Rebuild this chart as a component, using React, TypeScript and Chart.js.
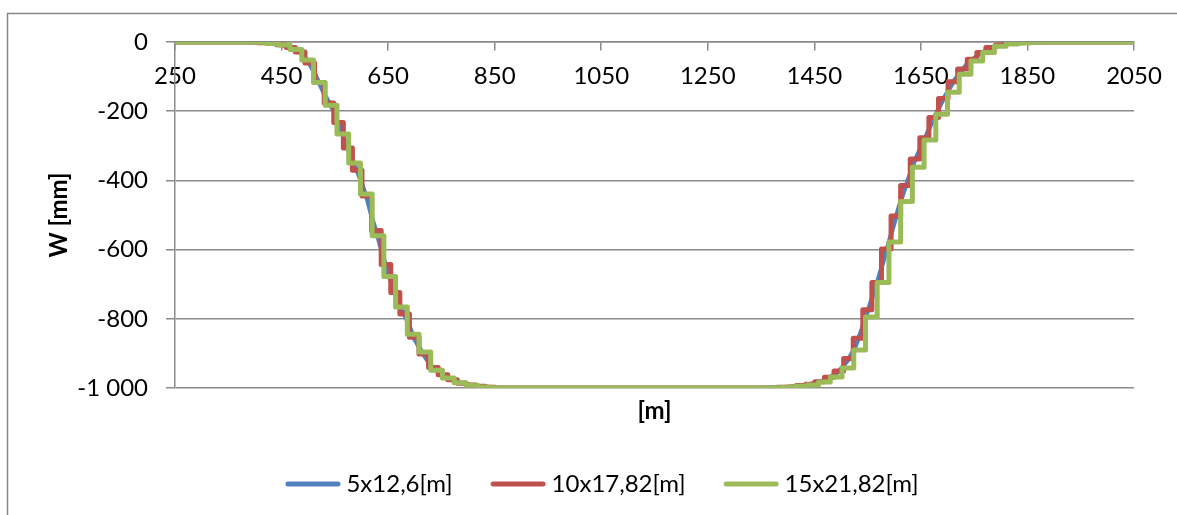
import React, { useEffect, useRef } from 'react';
import { Chart, registerables } from 'chart.js';

Chart.register(...registerables);

// ---- data ----
const xTickValues = [250, 450, 650, 850, 1050, 1250, 1450, 1650, 1850, 2050];
const yTickValues = [-1000, -800, -600, -400, -200, 0];
const yTickLabels = ['-1 000', '-800', '-600', '-400', '-200', '0'];

const seriesNames = ['5x12,6[m]', '10x17,82[m]', '15x21,82[m]'];
const seriesColors = ['#4F81BD', '#C0504D', '#9BBB59'];

const blueX = [250, 380, 420, 450, 470, 485, 500, 515, 530, 548, 565, 580, 595, 610, 620, 630, 640, 650, 662, 675, 687, 700, 715, 730, 745, 760, 780, 803, 830, 860, 1347, 1404, 1441, 1469, 1494, 1513, 1526, 1539, 1554, 1569, 1584, 1597, 1610, 1623, 1638, 1657, 1676, 1694, 1713, 1736, 1760, 1788, 1816, 1853, 1891, 2050];
const blueY = [0, 0, -2, -8, -18, -30, -55, -100, -150, -200, -270, -330, -385, -450, -510, -560, -615, -670, -720, -770, -810, -860, -900, -935, -955, -970, -983, -991, -997, -1000, -1000, -997, -990, -978, -955, -920, -885, -830, -760, -690, -610, -540, -470, -410, -345, -280, -215, -160, -110, -65, -35, -12, -4, -1, 0, 0];

const redX = [250, 405, 423, 441, 459, 476, 494, 512, 530, 548, 566, 583, 601, 619, 637, 655, 672, 690, 708, 726, 744, 762, 780, 797, 815, 833, 851, 1380, 1398, 1416, 1434, 1451, 1469, 1487, 1505, 1523, 1541, 1558, 1576, 1594, 1612, 1630, 1648, 1665, 1683, 1701, 1719, 1737, 1755, 1772, 1790, 1808, 1826, 1844, 1862, 2050];
const redY = [0, -2, -4, -8, -16, -29, -61, -117, -176, -233, -306, -371, -445, -545, -643, -724, -786, -853, -902, -941, -962, -976, -986, -991, -995, -998, -1000, -998, -997, -993, -989, -982, -969, -951, -915, -856, -774, -695, -598, -503, -415, -338, -277, -218, -163, -115, -78, -50, -30, -16, -9, -4, -2, -1, 0, 0];

const greenX = [250, 400, 422, 444, 466, 488, 510, 532, 554, 576, 598, 620, 642, 664, 686, 708, 730, 752, 774, 796, 818, 840, 862, 1370, 1392, 1414, 1436, 1458, 1480, 1502, 1524, 1546, 1568, 1590, 1612, 1634, 1656, 1678, 1700, 1722, 1744, 1766, 1788, 1810, 1832, 1854, 1876, 2050];
const greenY = [0, -1, -4, -9, -22, -52, -117, -183, -266, -350, -439, -560, -678, -766, -845, -896, -949, -971, -985, -992, -997, -999, -1000, -999, -998, -995, -991, -983, -968, -942, -890, -795, -695, -578, -461, -362, -283, -209, -145, -93, -55, -30, -12, -6, -3, -1, 0, 0];

const xTitle = '[m]';
const yTitle = 'W [mm]';

// ---- styles ----
const FONT = 'Lato';
const FS = 24;
const GRID = '#8a8a8a';

function toPoints(xs: number[], ys: number[]) {
  return xs.map((x, i) => ({ x, y: ys[i] }));
}

function legendLine(color: string) {
  const c = document.createElement('canvas');
  c.width = 110;
  c.height = 12;
  const g = c.getContext('2d')!;
  g.strokeStyle = color;
  g.lineWidth = 5;
  g.lineCap = 'round';
  g.beginPath();
  g.moveTo(33, 6);
  g.lineTo(83, 6);
  g.stroke();
  return c;
}

const framePlugin = {
  id: 'frame',
  beforeDraw(chart: any) {
    const ctx = chart.ctx;
    ctx.save();
    ctx.strokeStyle = '#868686';
    ctx.lineWidth = 1.5;
    ctx.beginPath();
    ctx.moveTo(7.5, 515);
    ctx.lineTo(7.5, 13.5);
    ctx.lineTo(1177, 13.5);
    ctx.stroke();
    ctx.restore();
  },
};

export default function App() {
  const ref = useRef<HTMLCanvasElement>(null);

  useEffect(() => {
    if (!ref.current) return;
    const imgs = seriesColors.map(legendLine);
    const series = [
      { x: blueX, y: blueY, stepped: false as any, width: 4.5 },
      { x: redX, y: redY, stepped: 'before' as any, width: 5 },
      { x: greenX, y: greenY, stepped: 'before' as any, width: 5 },
    ];
    const chart = new Chart(ref.current, {
      type: 'line',
      data: {
        datasets: series.map((s, i) => ({
          label: seriesNames[i],
          data: toPoints(s.x, s.y),
          borderColor: seriesColors[i],
          backgroundColor: seriesColors[i],
          borderWidth: s.width,
          pointRadius: 0,
          pointHoverRadius: 0,
          tension: 0,
          stepped: s.stepped,
          borderJoinStyle: 'round',
          borderCapStyle: 'round',
          fill: false,
          order: 3 - i,
          xAxisID: 'x',
          yAxisID: 'y',
        })),
      },
      options: {
        animation: false,
        responsive: false,
        devicePixelRatio: 1,
        events: [],
        layout: { padding: { left: 70, right: 43, top: 42, bottom: 9 } },
        font: { family: FONT, size: FS },
        scales: {
          x: {
            type: 'linear',
            position: { y: 0 } as any,
            min: 250,
            max: 2050,
            afterBuildTicks: (s: any) => {
              s.ticks = xTickValues.map((v) => ({ value: v }));
            },
            afterFit: (s: any) => {
              s.height = 0;
            },
            grid: { drawOnChartArea: false, drawTicks: true, tickLength: 8, color: GRID, lineWidth: 1.5 },
            border: { display: true, color: GRID, width: 1.5 },
            ticks: {
              autoSkip: false,
              maxRotation: 0,
              minRotation: 0,
              padding: 12,
              color: '#000',
              font: { family: FONT, size: FS },
              callback: (v: any) => String(v),
            },
          },
          x2: {
            type: 'linear',
            position: 'bottom',
            min: 250,
            max: 2050,
            grid: { display: false, drawTicks: false },
            border: { display: false },
            ticks: { display: false },
            afterFit: (s: any) => {
              s.height = 46;
            },
            title: {
              display: true,
              text: xTitle,
              color: '#000',
              font: { family: FONT, size: FS, weight: 'bold' },
              padding: { top: 0, bottom: 8 },
            },
          },
          y: {
            type: 'linear',
            min: -1000,
            max: 0,
            afterBuildTicks: (s: any) => {
              s.ticks = yTickValues.map((v) => ({ value: v }));
            },
            afterFit: (s: any) => {
              s.width = 105;
            },
            grid: { color: GRID, lineWidth: 1.5, tickLength: 9, drawTicks: true },
            border: { display: true, color: GRID, width: 1.5 },
            ticks: {
              padding: 18,
              color: '#000',
              font: { family: FONT, size: FS },
              callback: (v: any) => {
                const i = yTickValues.indexOf(Number(v));
                return i >= 0 ? yTickLabels[i] : String(v);
              },
            },
            title: {
              display: true,
              text: yTitle,
              color: '#000',
              font: { family: FONT, size: FS, weight: 'bold' },
              padding: { top: -25, bottom: 0 },
            },
          },
        },
        plugins: {
          tooltip: { enabled: false },
          legend: {
            display: true,
            position: 'bottom',
            labels: {
              usePointStyle: true,
              pointStyleWidth: 49,
              padding: 38,
              color: '#000',
              font: { family: FONT, size: FS },
              generateLabels: (chart: any) => {
                const items = (Chart.defaults.plugins.legend.labels as any).generateLabels(chart);
                return items.map((it: any) => ({ ...it, pointStyle: imgs[it.datasetIndex] }));
              },
              sort: (a: any, b: any) => a.datasetIndex - b.datasetIndex,
            },
          },
        },
      } as any,
      plugins: [framePlugin],
    });
    return () => chart.destroy();
  }, []);

  return (
    <div style={{ position: 'fixed', left: 0, top: 0, width: 1177, height: 515, background: '#fff', overflow: 'hidden' }}>
      <canvas ref={ref} width={1177} height={515} style={{ display: 'block' }} />
    </div>
  );
}
